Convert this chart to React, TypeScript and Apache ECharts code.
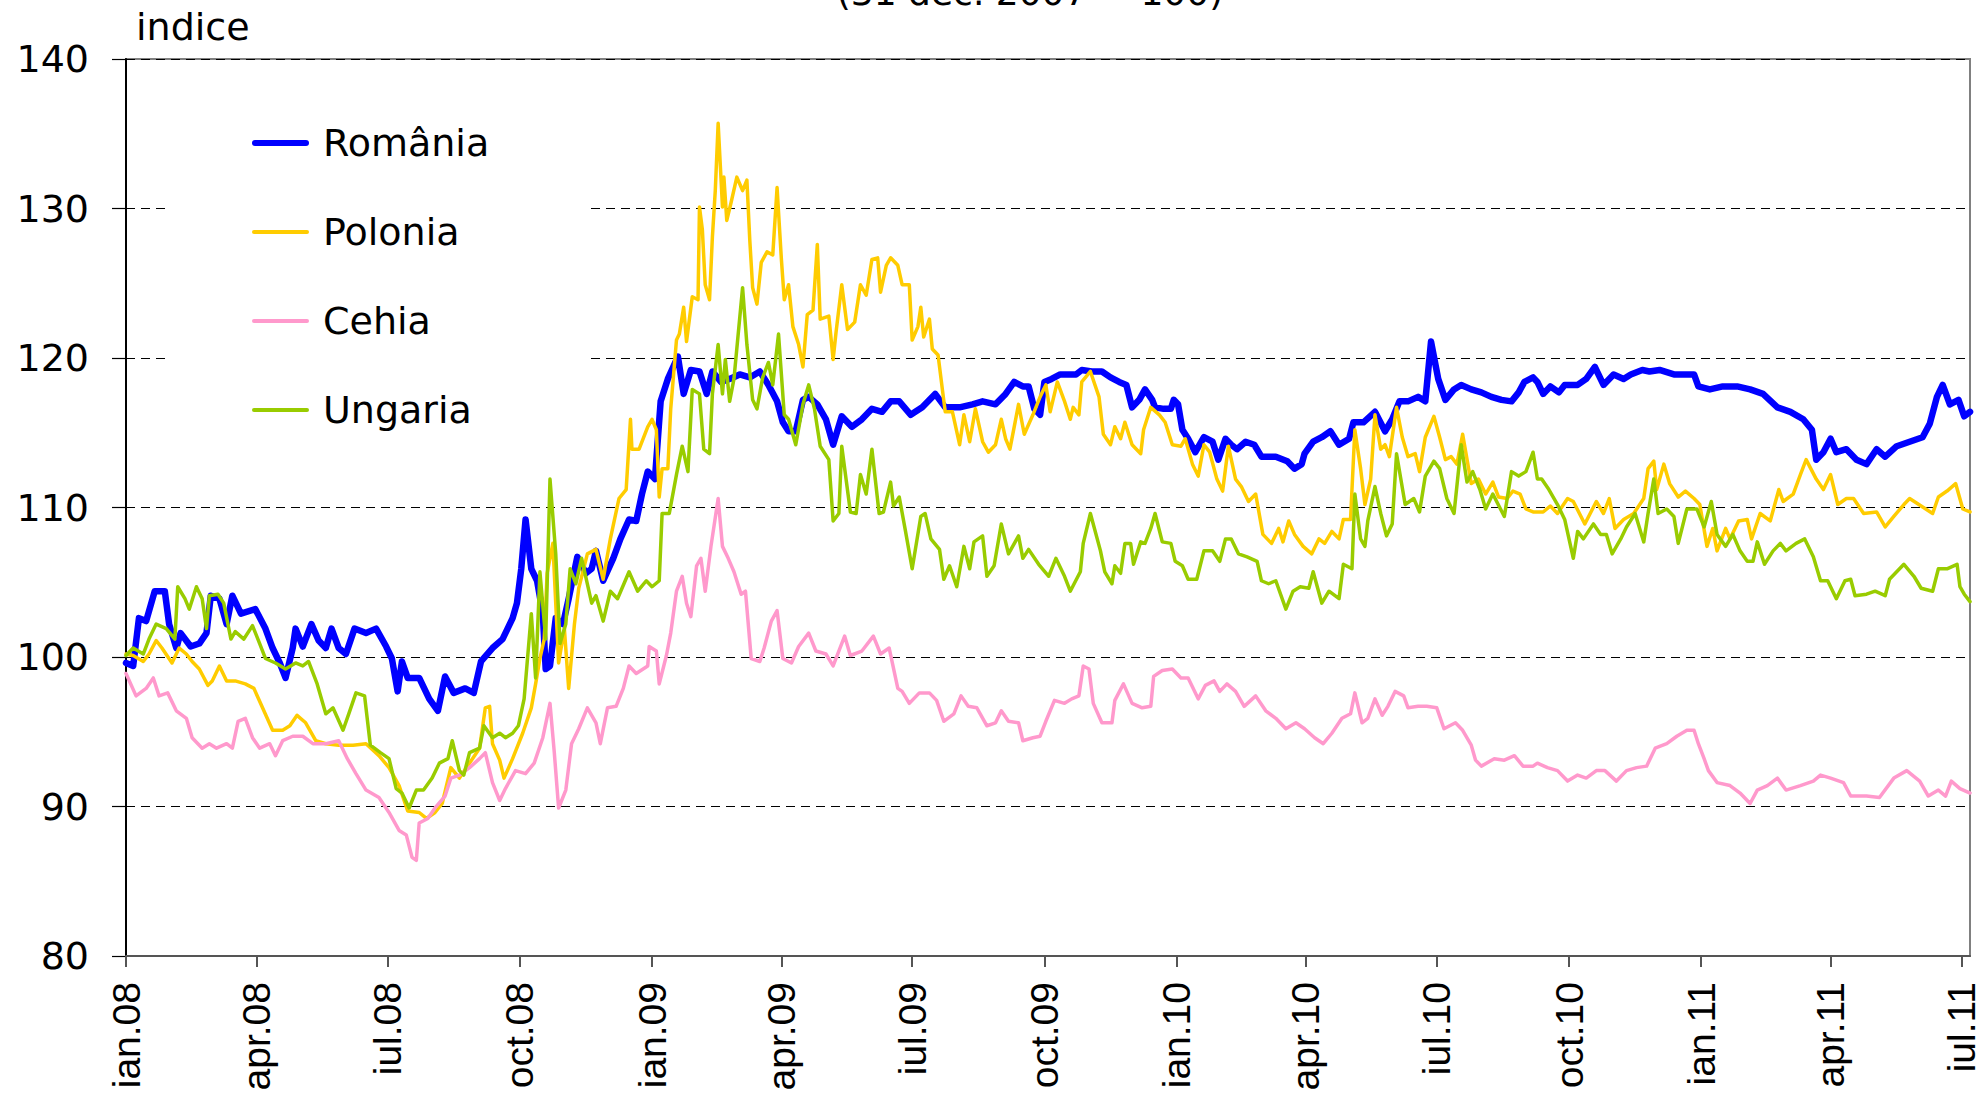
import React, { useEffect, useRef } from "react";
import * as echarts from "echarts";

// ---------- axis definition ----------
const START_DATE_UTC = Date.UTC(2008, 0, 1);
const DAY_MS = 86400000;
const LAST_DAY_INDEX = 1283; // ~6 Jul 2011
const MONTH_NAMES = ["ian", "feb", "mar", "apr", "mai", "iun", "iul", "aug", "sep", "oct", "nov", "dec"];
const TICK_MONTHS = [0, 3, 6, 9];
const Y_MIN = 80;
const Y_MAX = 140;
const Y_STEP = 10;
const SERIES_NAMES = ["România", "Polonia", "Cehia", "Ungaria"];
const SERIES_COLORS = ["#0000FF", "#FFCC00", "#FF99CC", "#99CC00"];
const Y_AXIS_TITLE = "indice";
const CHART_TITLE = "(31 dec. 2007 = 100)";

// ---------- data: [day index since 1 Jan 2008, index value] ----------
const romania: [number, number][] = [
  [0, 99.6], [5, 99.4], [9, 102.6], [14, 102.4], [20, 104.4], [27, 104.4], [30, 102.2], [35, 100.6], [38, 101.6], [45, 100.7],
  [51, 100.9], [56, 101.6], [59, 104.1], [65, 103.9], [70, 102.2], [74, 104.1], [80, 102.9], [90, 103.2], [97, 101.9], [102, 100.6],
  [107, 99.6], [111, 98.6], [116, 100.6], [118, 101.9], [123, 100.7], [129, 102.2], [134, 101.1], [139, 100.6], [143, 101.9], [148, 100.6],
  [153, 100.2], [159, 101.9], [167, 101.6], [174, 101.9], [181, 100.7], [185, 99.9], [189, 97.7], [192, 99.7], [196, 98.6], [204, 98.6],
  [211, 97.2], [217, 96.4], [222, 98.7], [228, 97.6], [236, 97.9], [242, 97.6], [247, 99.7], [255, 100.6], [262, 101.2], [269, 102.6],
  [272, 103.6], [275, 105.9], [278, 109.2], [282, 105.9], [286, 105.1], [290, 102.9], [292, 99.2], [295, 99.4], [299, 102.6], [304, 102.2],
  [308, 103.9], [314, 106.7], [320, 105.6], [324, 105.9],
  [327, 107.1], [332, 105.1], [339, 106.6], [344, 107.9], [350, 109.2], [355, 109.1], [359, 110.9], [363, 112.4], [368, 111.9], [372, 117.1],
  [377, 118.6], [384, 120.1], [388, 117.6], [393, 119.2], [399, 119.1], [404, 117.6], [408, 119.1], [414, 118.4], [420, 118.6], [427, 118.9],
  [434, 118.7], [441, 119.1], [447, 118.2], [453, 117.1], [457, 115.7], [461, 115.1], [466, 115.1], [471, 117.2], [475, 117.4], [481, 116.9],
  [487, 115.9], [492, 114.2], [498, 116.1], [505, 115.4], [512, 115.9], [519, 116.6], [526, 116.4], [532, 117.1], [538, 117.1], [546, 116.2],
  [554, 116.7], [563, 117.6], [570, 116.7], [580, 116.7], [589, 116.9], [596, 117.1], [605, 116.9], [612, 117.6], [618, 118.4], [624, 118.1],
  [628, 118.1], [632, 116.6], [636, 116.2], [639, 118.4], [644, 118.6], [650, 118.9],
  [654, 118.9], [661, 118.9], [665, 119.2], [672, 119.1], [679, 119.1], [685, 118.7], [691, 118.4], [696, 118.2], [700, 116.7], [705, 117.2],
  [709, 117.9], [714, 117.2], [716, 116.7], [722, 116.6], [727, 116.6], [729, 117.2], [732, 116.9], [735, 115.2], [739, 114.6], [744, 113.7],
  [750, 114.7], [756, 114.4], [760, 113.2], [765, 114.6], [769, 114.2], [773, 113.9], [779, 114.4], [785, 114.2], [790, 113.4], [800, 113.4],
  [808, 113.1], [813, 112.6], [818, 112.9], [820, 113.6], [826, 114.4], [832, 114.7], [838, 115.1], [844, 114.2], [851, 114.6], [854, 115.7],
  [861, 115.7], [869, 116.4], [876, 115.1], [881, 115.9], [886, 117.1], [892, 117.1], [899, 117.4], [904, 117.1], [908, 121.1], [913, 118.6],
  [918, 117.2], [924, 117.9], [929, 118.2], [936, 117.9], [943, 117.7], [950, 117.4], [957, 117.2], [964, 117.1], [969, 117.7], [973, 118.4],
  [979, 118.7],
  [982, 118.4], [986, 117.6], [991, 118.1], [997, 117.7], [1001, 118.2], [1010, 118.2], [1016, 118.6], [1022, 119.4], [1028, 118.2], [1035, 118.9],
  [1042, 118.6], [1047, 118.9], [1055, 119.2], [1060, 119.1], [1067, 119.2], [1077, 118.9], [1084, 118.9], [1091, 118.9], [1094, 118.1], [1102, 117.9],
  [1111, 118.1], [1121, 118.1], [1130, 117.9], [1139, 117.6], [1149, 116.7], [1158, 116.4], [1167, 115.9], [1173, 115.2], [1176, 113.2], [1181, 113.7],
  [1186, 114.6], [1190, 113.7], [1197, 113.9], [1204, 113.2], [1211, 112.9], [1218, 113.9], [1224, 113.4], [1232, 114.1], [1241, 114.4], [1250, 114.7],
  [1255, 115.6], [1260, 117.4], [1264, 118.2], [1269, 116.9], [1275, 117.2], [1279, 116.1], [1283, 116.4],
];

const polonia: [number, number][] = [
  [0, 100.2], [5, 100.1], [12, 99.7], [16, 100.2], [21, 101.1], [25, 100.6], [32, 99.6], [37, 100.6], [42, 100.2], [46, 99.7],
  [51, 99.2], [57, 98.1], [60, 98.4], [65, 99.4], [70, 98.4], [76, 98.4], [83, 98.2], [89, 97.9], [95, 96.6], [102, 95.1],
  [109, 95.1], [114, 95.4], [119, 96.1], [125, 95.6], [132, 94.4], [139, 94.2], [148, 94.1], [158, 94.1], [167, 94.2], [176, 93.4],
  [183, 92.6], [190, 91.4], [196, 89.7], [204, 89.6], [209, 89.2], [215, 89.6], [220, 90.2], [226, 92.6], [232, 91.9], [239, 92.9],
  [246, 93.9], [250, 96.6], [253, 96.7], [255, 94.2], [260, 93.1], [263, 91.9], [269, 93.2], [276, 94.9], [282, 96.6], [285, 98.2],
  [288, 99.9], [291, 101.2], [293, 105.6], [297, 107.6], [301, 99.6], [305, 101.9], [308, 97.9], [312, 102.2], [315, 104.6], [321, 106.9],
  [327, 107.2], [332, 105.2], [337, 107.9], [343, 110.6], [348, 111.2], [351, 115.9], [352, 113.9], [357, 113.9], [363, 115.4], [366, 115.9],
  [369, 115.2], [371, 110.7], [373, 112.6], [377, 112.6], [379, 116.6], [383, 121.2], [385, 121.6], [388, 123.4], [390, 121.1], [394, 124.1],
  [398, 123.9], [399, 130.1], [401, 128.6], [403, 124.9], [406, 123.9], [408, 128.1], [410, 131.2], [412, 135.7], [415, 130.1], [416, 132.1],
  [418, 129.2], [421, 130.4], [425, 132.1], [429, 131.2], [432, 131.9], [434, 127.9], [436, 124.7], [439, 123.6], [442, 126.4], [446, 127.1],
  [450, 126.9], [453, 131.4], [456, 126.6], [458, 123.9], [461, 124.9], [464, 122.1], [468, 120.9], [471, 119.4], [474, 122.9], [478, 123.2],
  [481, 127.6], [483, 122.6], [489, 122.8], [492, 119.9], [494, 121.7], [498, 124.9], [502, 121.9], [507, 122.4], [511, 124.9], [515, 124.2],
  [519, 126.6], [523, 126.7], [525, 124.4], [529, 126.2], [532, 126.7], [537, 126.2], [540, 124.9], [545, 124.9], [547, 121.2], [551, 122.1],
  [553, 123.4], [555, 121.4], [559, 122.6], [561, 120.6], [565, 120.2], [568, 117.9], [570, 116.4], [575, 116.4], [580, 114.2], [583, 116.2],
  [587, 114.4], [591, 116.6], [596, 114.4], [600, 113.7], [605, 114.2], [609, 115.9], [612, 114.6], [615, 113.9], [621, 116.9], [625, 114.9],
  [631, 116.2], [636, 117.4], [640, 118.2], [643, 116.4], [648, 118.4], [653, 117.1],
  [657, 115.9], [659, 116.7], [663, 116.2], [665, 118.4], [671, 119.1], [677, 117.4], [680, 114.9], [685, 114.2], [688, 115.4], [692, 114.6],
  [695, 115.7], [700, 114.2], [706, 113.6], [708, 115.2], [713, 116.7], [719, 116.2], [723, 115.7], [728, 114.2], [734, 114.1], [737, 114.6],
  [742, 112.9], [746, 112.1], [750, 114.2], [754, 113.7], [759, 111.9], [763, 111.1], [767, 114.1], [772, 111.9], [776, 111.4], [781, 110.4],
  [786, 110.9], [791, 108.2], [797, 107.6], [802, 108.6], [805, 107.7], [809, 109.1], [813, 108.2], [819, 107.4], [825, 106.9], [830, 107.9],
  [834, 107.6], [839, 108.4], [844, 107.9], [847, 109.2], [852, 109.2], [855, 115.2], [859, 112.6], [862, 110.2], [866, 111.9], [869, 116.2],
  [873, 113.9], [876, 114.2], [879, 113.4], [884, 116.7], [888, 114.7], [892, 113.4], [897, 113.6], [900, 112.4], [904, 114.7], [910, 116.1],
  [914, 114.7], [918, 113.2], [922, 113.4], [926, 112.9], [930, 114.9], [936, 111.6], [941, 111.9], [946, 110.9], [951, 111.7], [955, 110.7],
  [961, 110.6], [965, 111.1], [970, 110.9], [974, 109.9], [979, 109.7],
  [982, 109.7], [986, 109.7], [991, 110.1], [996, 109.6], [1003, 110.6], [1007, 110.4], [1015, 108.9], [1023, 110.4], [1028, 109.6], [1032, 110.6],
  [1036, 108.6], [1042, 109.2], [1049, 109.6], [1056, 110.6], [1059, 112.6], [1063, 113.1], [1065, 111.2], [1070, 112.9], [1074, 111.6], [1080, 110.7],
  [1085, 111.1], [1091, 110.6], [1095, 110.2], [1100, 107.4], [1104, 108.6], [1107, 107.1], [1113, 108.6], [1116, 107.9], [1122, 109.1], [1128, 109.2],
  [1131, 107.9], [1137, 109.6], [1144, 109.1], [1150, 111.2], [1153, 110.4], [1160, 110.9], [1165, 112.2], [1169, 113.2], [1176, 111.9], [1181, 111.2],
  [1186, 112.2], [1191, 110.2], [1197, 110.6], [1202, 110.6], [1209, 109.6], [1218, 109.7], [1224, 108.7], [1230, 109.4], [1237, 110.2], [1241, 110.6],
  [1249, 110.1], [1257, 109.6], [1261, 110.7], [1267, 111.1], [1273, 111.6], [1278, 109.9], [1283, 109.7],
];

const cehia: [number, number][] = [
  [0, 98.9], [7, 97.4], [14, 97.9], [19, 98.6], [23, 97.4], [29, 97.6], [35, 96.4], [42, 95.9], [46, 94.6], [53, 93.9],
  [58, 94.2], [63, 93.9], [70, 94.2], [74, 93.9], [78, 95.7], [83, 95.9], [88, 94.6], [93, 93.9], [100, 94.2], [104, 93.4],
  [109, 94.4], [116, 94.7], [123, 94.7], [130, 94.2], [139, 94.2], [148, 94.4], [154, 93.2], [160, 92.2], [167, 91.1], [176, 90.6],
  [183, 89.6], [190, 88.4], [195, 88.1], [199, 86.6], [202, 86.4], [204, 88.9], [210, 89.2], [215, 89.9], [222, 90.7], [226, 91.9],
  [232, 92.1], [239, 92.6], [246, 93.2], [250, 93.6], [255, 91.6], [260, 90.4], [264, 91.2], [271, 92.4], [278, 92.2], [284, 92.9],
  [290, 94.6], [295, 96.9], [298, 93.6], [301, 89.9], [306, 91.1], [310, 94.2], [315, 95.2], [321, 96.6],
  [327, 95.6], [330, 94.2], [335, 96.6], [341, 96.7], [346, 97.9], [350, 99.4], [355, 98.9], [363, 99.4], [364, 100.7], [369, 100.4],
  [371, 98.2], [376, 100.1], [379, 101.6], [383, 104.4], [387, 105.4], [390, 103.6], [393, 102.7], [397, 106.1], [400, 106.6], [403, 104.4],
  [407, 107.4], [412, 110.6], [415, 107.4], [419, 106.6], [423, 105.7], [428, 104.2], [431, 104.4], [435, 99.9], [441, 99.7], [444, 100.6],
  [449, 102.4], [453, 103.1], [457, 99.9], [463, 99.6], [468, 100.7], [475, 101.6], [480, 100.4], [487, 100.2], [492, 99.4], [500, 101.4],
  [504, 100.1], [512, 100.4], [520, 101.4], [525, 100.2], [531, 100.6], [537, 97.9], [540, 97.7], [545, 96.9], [552, 97.6], [559, 97.6],
  [564, 97.1], [569, 95.7], [576, 96.2], [581, 97.4], [586, 96.7], [592, 96.6], [599, 95.4], [605, 95.6], [609, 96.4], [614, 95.7],
  [621, 95.6], [624, 94.4], [631, 94.6], [636, 94.7], [640, 95.7], [646, 97.1], [653, 96.9],
  [658, 97.2], [663, 97.4], [666, 99.4], [670, 99.2], [673, 96.9], [679, 95.6], [686, 95.6], [688, 97.1], [694, 98.2], [700, 96.9],
  [707, 96.6], [713, 96.7], [715, 98.7], [721, 99.1], [728, 99.2], [734, 98.6], [739, 98.6], [746, 97.2], [751, 98.1], [757, 98.4],
  [761, 97.7], [766, 98.2], [772, 97.7], [778, 96.7], [786, 97.4], [793, 96.4], [800, 95.9], [807, 95.2], [814, 95.6], [820, 95.2],
  [827, 94.6], [833, 94.2], [839, 94.9], [846, 95.9], [852, 96.2], [855, 97.6], [860, 95.6], [864, 95.9], [869, 97.2], [874, 96.1],
  [878, 96.7], [883, 97.7], [889, 97.4], [892, 96.6], [899, 96.7], [905, 96.7], [912, 96.6], [917, 95.2], [925, 95.6], [930, 95.1],
  [936, 94.1], [939, 93.1], [943, 92.7], [952, 93.2], [959, 93.1], [966, 93.4], [972, 92.7], [979, 92.7],
  [982, 92.9], [989, 92.6], [996, 92.4], [1003, 91.7], [1010, 92.1], [1016, 91.9], [1023, 92.4], [1029, 92.4], [1037, 91.7], [1044, 92.4],
  [1051, 92.6], [1058, 92.7], [1064, 93.9], [1072, 94.2], [1079, 94.7], [1086, 95.1], [1091, 95.1], [1094, 94.2], [1098, 93.2], [1101, 92.4],
  [1107, 91.6], [1116, 91.4], [1123, 90.9], [1130, 90.2], [1135, 91.1], [1142, 91.4], [1149, 91.9], [1155, 91.1], [1165, 91.4], [1174, 91.7],
  [1179, 92.1], [1186, 91.9], [1195, 91.6], [1200, 90.7], [1211, 90.7], [1220, 90.6], [1230, 91.9], [1239, 92.4], [1248, 91.7], [1254, 90.7],
  [1261, 91.1], [1266, 90.7], [1270, 91.7], [1276, 91.2], [1283, 90.9],
];

const ungaria: [number, number][] = [
  [0, 100.1], [5, 100.6], [12, 100.2], [16, 101.2], [21, 102.2], [28, 101.9], [34, 101.2], [36, 104.7], [41, 103.9], [44, 103.2],
  [49, 104.7], [53, 103.9], [56, 101.9], [58, 104.1], [64, 104.2], [68, 103.6], [73, 101.2], [76, 101.7], [82, 101.2], [88, 102.1],
  [93, 100.9], [97, 99.9], [104, 99.6], [111, 99.2], [118, 99.6], [123, 99.4], [127, 99.7], [133, 98.2], [139, 96.2], [144, 96.6],
  [151, 95.1], [155, 96.2], [160, 97.6], [166, 97.4], [170, 94.1], [177, 93.6], [183, 93.2], [188, 91.2], [192, 90.9], [197, 89.9],
  [202, 91.1], [207, 91.1], [213, 91.9], [218, 92.9], [224, 93.2], [227, 94.4], [232, 92.4], [235, 92.1], [239, 93.6], [246, 93.9],
  [249, 95.4], [255, 94.6], [260, 94.9], [264, 94.6], [269, 94.9], [273, 95.4], [277, 97.2], [282, 102.9], [285, 98.6], [288, 105.7],
  [292, 101.2], [295, 111.9], [299, 106.9], [302, 100.9], [306, 102.2], [309, 105.9], [313, 104.9], [317, 106.6], [324, 103.6],
  [327, 104.1], [332, 102.4], [337, 104.4], [342, 103.9], [350, 105.7], [356, 104.4], [362, 105.1], [366, 104.7], [371, 105.1], [373, 109.6],
  [378, 109.6], [383, 112.2], [387, 114.1], [391, 112.4], [394, 117.9], [399, 117.6], [402, 113.9], [406, 113.6], [408, 117.6], [412, 120.9],
  [415, 117.6], [417, 119.9], [420, 117.1], [423, 118.6], [429, 124.7], [432, 120.9], [436, 117.2], [439, 116.6], [443, 118.7], [447, 119.7],
  [450, 118.2], [454, 121.6], [458, 116.2], [461, 115.9], [466, 114.2], [471, 116.9], [475, 118.2], [479, 116.6], [483, 114.1], [489, 113.2],
  [492, 109.1], [496, 109.6], [498, 114.1], [504, 109.7], [508, 109.6], [511, 112.2], [515, 110.9], [519, 113.9], [524, 109.6], [527, 109.7],
  [532, 111.7], [534, 110.1], [538, 110.7], [542, 108.6], [547, 105.9], [553, 109.4], [556, 109.6], [560, 107.9], [566, 107.2], [569, 105.2],
  [573, 106.1], [578, 104.7], [583, 107.4], [587, 105.9], [590, 107.7], [596, 108.1], [599, 105.4], [604, 106.1], [609, 108.9], [614, 106.9],
  [621, 108.1], [624, 106.6], [628, 107.2], [635, 106.2], [642, 105.4], [647, 106.6], [653, 105.4],
  [657, 104.4], [664, 105.7], [666, 107.6], [671, 109.6], [678, 107.1], [681, 105.7], [686, 104.9], [688, 106.1], [692, 105.6], [695, 107.6],
  [699, 107.6], [701, 106.2], [706, 107.7], [709, 107.6], [713, 108.6], [716, 109.6], [721, 107.7], [727, 107.6], [730, 106.4], [735, 106.1],
  [739, 105.2], [745, 105.2], [750, 107.1], [756, 107.1], [761, 106.4], [765, 107.9], [769, 107.9], [774, 106.9], [780, 106.7], [787, 106.4],
  [790, 105.1], [795, 104.9], [800, 105.1], [807, 103.2], [812, 104.4], [817, 104.7], [823, 104.6], [826, 105.7], [832, 103.6], [837, 104.4],
  [844, 103.9], [847, 106.2], [853, 105.9], [855, 110.9], [859, 107.9], [862, 107.4], [864, 109.1], [869, 111.4], [873, 109.6], [877, 108.1],
  [881, 108.9], [884, 113.6], [890, 110.2], [896, 110.6], [900, 109.7], [904, 112.1], [910, 113.1], [914, 112.6], [919, 110.6], [924, 109.6],
  [929, 114.2], [933, 111.7], [937, 112.4], [942, 111.2], [946, 109.9], [951, 110.9], [959, 109.4], [964, 112.4], [969, 112.1], [974, 112.4],
  [979, 113.7],
  [982, 111.9], [985, 111.9], [990, 111.2], [996, 110.2], [1001, 109.2], [1007, 106.6], [1010, 108.4], [1014, 107.9], [1021, 108.9], [1026, 108.2],
  [1030, 108.2], [1034, 106.9], [1040, 107.9], [1044, 108.7], [1050, 109.6], [1056, 107.7], [1059, 109.6], [1063, 111.9], [1066, 109.6], [1072, 109.9],
  [1077, 109.4], [1080, 107.6], [1086, 109.9], [1093, 109.9], [1098, 108.7], [1103, 110.4], [1107, 108.2], [1113, 107.4], [1118, 108.2], [1123, 107.1],
  [1128, 106.4], [1132, 106.4], [1135, 107.7], [1140, 106.2], [1146, 107.1], [1151, 107.6], [1155, 107.1], [1162, 107.6], [1168, 107.9], [1174, 106.7],
  [1179, 105.1], [1184, 105.1], [1190, 103.9], [1196, 105.1], [1200, 105.2], [1203, 104.1], [1211, 104.2], [1217, 104.4], [1224, 104.1], [1227, 105.2],
  [1237, 106.2], [1244, 105.4], [1249, 104.6], [1257, 104.4], [1261, 105.9], [1267, 105.9], [1274, 106.2], [1276, 104.7], [1279, 104.2], [1283, 103.7],
];

const SERIES_DATA = [romania, polonia, cehia, ungaria];
const SERIES_WIDTHS = [6.5, 3.5, 3.5, 3.5];
const LEGEND_ICONS = [
  "path://M3,0H54A3,3,0,0,1,54,6H3A3,3,0,0,1,3,0Z",
  "path://M2,0H55A2,2,0,0,1,55,4H2A2,2,0,0,1,2,0Z",
  "path://M2,0H55A2,2,0,0,1,55,4H2A2,2,0,0,1,2,0Z",
  "path://M2,0H55A2,2,0,0,1,55,4H2A2,2,0,0,1,2,0Z",
];

// ---------- helpers ----------
function dayToDate(i: number) {
  return new Date(START_DATE_UTC + i * DAY_MS);
}
const categories: string[] = Array.from({ length: LAST_DAY_INDEX + 1 }, (_, i) => {
  const d = dayToDate(i);
  const m = String(d.getUTCMonth() + 1).padStart(2, "0");
  const dd = String(d.getUTCDate()).padStart(2, "0");
  return `${d.getUTCFullYear()}-${m}-${dd}`;
});
function isQuarterStart(index: number) {
  const d = dayToDate(index);
  return d.getUTCDate() === 1 && TICK_MONTHS.includes(d.getUTCMonth());
}
function formatTick(value: string) {
  const [y, m] = value.split("-");
  return `${MONTH_NAMES[Number(m) - 1]}.${y.slice(2)}`;
}

export default function App() {
  const ref = useRef<HTMLDivElement>(null);

  useEffect(() => {
    if (!ref.current) return;
    const chart = echarts.init(ref.current, null, { renderer: "svg" });
    chart.setOption({
      animation: false,
      backgroundColor: "#ffffff",
      grid: {
        left: 126,
        right: 18,
        top: 59,
        bottom: 142,
        show: true,
        borderColor: "#808080",
        borderWidth: 2,
        backgroundColor: "transparent",
        containLabel: false,
        outerBoundsMode: "none",
      },
      xAxis: {
        type: "category",
        data: categories,
        boundaryGap: false,
        axisLine: { show: true, lineStyle: { color: "#555555", width: 2 } },
        axisTick: {
          show: true,
          interval: (i: number) => isQuarterStart(i),
          length: 11,
          lineStyle: { color: "#555555", width: 2 },
        },
        axisLabel: {
          show: true,
          interval: (i: number) => isQuarterStart(i),
          rotate: 90,
          margin: 26,
          formatter: (v: string) => formatTick(v),
          fontFamily: "Liberation Sans",
          fontSize: 39,
          color: "#000000",
          hideOverlap: false,
        },
        splitLine: { show: false },
      },
      yAxis: {
        type: "value",
        min: Y_MIN,
        max: Y_MAX,
        interval: Y_STEP,
        axisLine: { show: true, lineStyle: { color: "#000000", width: 2 } },
        axisTick: { show: true, length: 14, lineStyle: { color: "#000000", width: 1.2 } },
        axisLabel: { margin: 37, fontFamily: "DejaVu Sans", fontSize: 38, color: "#000000" },
        splitLine: { show: true, lineStyle: { color: "#000000", width: 1.2, type: [9, 6] } },
      },
      legend: {
        show: true,
        orient: "vertical",
        left: 165,
        top: 85,
        padding: [38, 100, 40, 87],
        itemGap: 49,
        itemWidth: 57,
        itemHeight: 14,
        backgroundColor: "#ffffff",
        data: SERIES_NAMES.map((name, k) => ({ name, icon: LEGEND_ICONS[k] })),
        textStyle: {
          fontFamily: "DejaVu Sans",
          fontSize: 38,
          color: "#000000",
          lineHeight: 40,
          padding: [0, 0, 0, 9],
        },
      },
      graphic: [
        {
          type: "text",
          x: 136,
          y: 27,
          style: {
            text: Y_AXIS_TITLE,
            fontFamily: "DejaVu Sans",
            fontSize: 38,
            fill: "#000000",
            align: "left",
            verticalAlign: "middle",
          },
        },
        {
          type: "text",
          x: 1030,
          y: -8,
          style: {
            text: CHART_TITLE,
            fontFamily: "DejaVu Sans",
            fontSize: 36,
            fill: "#000000",
            align: "center",
            verticalAlign: "middle",
          },
        },
      ],
      series: SERIES_NAMES.map((name, k) => ({
        name,
        type: "line",
        data: SERIES_DATA[k],
        color: SERIES_COLORS[k],
        itemStyle: { color: SERIES_COLORS[k] },
        symbol: "none",
        showSymbol: false,
        lineStyle: { color: SERIES_COLORS[k], width: SERIES_WIDTHS[k], join: "round", cap: "round" },
        emphasis: { disabled: true },
        z: 2 + k,
      })),
    });
    return () => chart.dispose();
  }, []);

  return (
    <div
      ref={ref}
      style={{ position: "absolute", left: 0, top: 0, width: 1988, height: 1098, background: "#ffffff" }}
    />
  );
}
